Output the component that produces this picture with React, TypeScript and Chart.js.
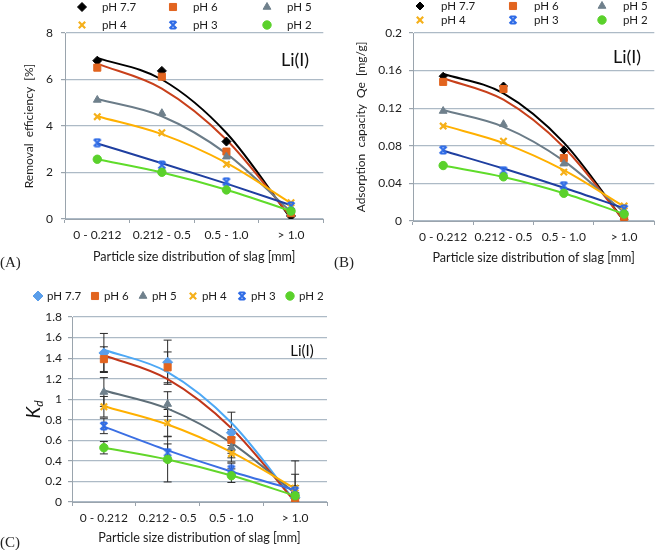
import React, { useEffect, useRef } from 'react';
import { Chart, registerables } from 'chart.js';
import { drawPoint } from 'chart.js/helpers';

Chart.register(...registerables);

// ---------------- data ----------------
const categories = ['0 - 0.212', '0.212 - 0.5', '0.5 - 1.0', '> 1.0'];
const phLabels = ['pH 7.7', 'pH 6', 'pH 5', 'pH 4', 'pH 3', 'pH 2'];
const panelTag = 'Li(I)';
const xTitle = 'Particle size distribution of slag [mm]';
const yTitleA = 'Removal  efficiency  [%]';
const yTitleB = 'Adsorption  capacity  Qe  [mg/g]';

// (A) removal efficiency [%]
const removalPH77 = [6.81, 6.37, 3.33, 0.13];
const removalPH6 = [6.51, 6.12, 2.9, 0.25];
const removalPH5 = [5.12, 4.55, 2.68, 0.35];
const removalPH4 = [4.4, 3.71, 2.35, 0.7];
const removalPH3 = [3.28, 2.32, 1.6, 0.56];
const removalPH2 = [2.57, 2.01, 1.25, 0.34];
const removalTrend77 = [6.93, 6.0, 3.7, 0.01];
const removalTrend6 = [6.68, 5.61, 3.41, 0.08];
const removalTrend5 = [5.16, 4.42, 2.81, 0.31];
const removalTrend4 = [4.42, 3.65, 2.41, 0.68];
const removalTrend3 = [3.25, 2.4, 1.52, 0.59];
const removalTrend2 = [2.57, 2.0, 1.26, 0.34];
const removalTicks = [0, 2, 4, 6, 8];

// (B) adsorption capacity Qe [mg/g]
const qePH77 = [0.154, 0.1436, 0.0755, 0.002];
const qePH6 = [0.148, 0.1404, 0.067, 0.004];
const qePH5 = [0.117, 0.103, 0.061, 0.01];
const qePH4 = [0.101, 0.085, 0.052, 0.016];
const qePH3 = [0.0755, 0.0535, 0.0376, 0.0128];
const qePH2 = [0.059, 0.047, 0.0295, 0.0074];
const qeTrend77 = [0.1566, 0.1358, 0.0834, 0.0];
const qeTrend6 = [0.1518, 0.129, 0.0784, 0.0002];
const qeTrend5 = [0.118, 0.1002, 0.0639, 0.0091];
const qeTrend4 = [0.1017, 0.0829, 0.0541, 0.0153];
const qeTrend3 = [0.0748, 0.0558, 0.0354, 0.0136];
const qeTrend2 = [0.059, 0.0469, 0.0296, 0.0074];
const qeTicks = [0, 0.04, 0.08, 0.12, 0.16, 0.2];

// (C) Kd
const kdPH77 = [1.45, 1.36, 0.674, 0.04];
const kdPH6 = [1.39, 1.31, 0.603, 0.036];
const kdPH5 = [1.07, 0.953, 0.53, 0.1];
const kdPH4 = [0.927, 0.77, 0.47, 0.135];
const kdPH3 = [0.74, 0.48, 0.318, 0.11];
const kdPH2 = [0.528, 0.415, 0.256, 0.061];
const kdErr77 = [0.19, 0.215, 0.2, 0.05];
const kdErr6 = [0.12, 0.15, 0.1, 0.03];
const kdErr5 = [0.14, 0.12, 0.1, 0.17];
const kdErr4 = [0.1, 0.13, 0.08, 0.265];
const kdErr3 = [0.075, 0.085, 0.06, 0.05];
const kdErr2 = [0.06, 0.22, 0.066, 0.03];
const kdTrend77 = [1.482, 1.263, 0.771, 0.008];
const kdTrend6 = [1.428, 1.195, 0.718, 0.0];
const kdTrend5 = [1.085, 0.908, 0.575, 0.085];
const kdTrend4 = [0.932, 0.754, 0.486, 0.13];
const kdTrend3 = [0.733, 0.502, 0.296, 0.117];
const kdTrend2 = [0.5285, 0.4135, 0.2575, 0.0605];
const kdTicks = [0, 0.2, 0.4, 0.6, 0.8, 1, 1.2, 1.4, 1.6, 1.8];

// ---------------- styles ----------------
const FONT = 'Lato, "Open Sans", sans-serif';
const TEXT = '#1c1c1c';
const GRID = '#adbac6';
const AXIS = '#9aa4ad';

const markerAB = ['#000000', '#e2641f', '#6f808c', '#f5b01a', '#2e6be6', '#5ad12b'];
const lineAB = ['#000000', '#c8401b', '#6b7c88', '#ffb000', '#1f3fa0', '#5fdc2a'];
const markerC = ['#5a9eea', '#e2641f', '#6f808c', '#f5b01a', '#2e6be6', '#5ad12b'];
const lineC = ['#4da8f5', '#c0361a', '#5e6e78', '#ffb000', '#3b6fe3', '#62d62a'];

function makeStar(color: string, size: number) {
  const c = document.createElement('canvas');
  c.width = size;
  c.height = size;
  const g = c.getContext('2d')!;
  g.strokeStyle = color;
  g.lineWidth = 2;
  const a = 1.5;
  const b = size - 1.5;
  g.beginPath();
  g.moveTo(a, a); g.lineTo(b, b);
  g.moveTo(b, a); g.lineTo(a, b);
  g.moveTo(a + 1, a); g.lineTo(b - 1, a);
  g.moveTo(a + 1, b); g.lineTo(b - 1, b);
  g.stroke();
  return c;
}

type Spec = {
  width: number;
  height: number;
  values: number[][];
  trends: number[][];
  errors?: number[][];
  ticks: number[];
  yTitle?: string;
  markerColors: string[];
  lineColors: string[];
  radii: number[];
  padTop: number;
  padRight: number;
  yWidth: number;
  xHeight: number;
  yTickPad: number;
  yTitlePad: number;
  xTickPad: number;
  xTitlePad: number;
  legendCols: number[];
  legendRows: number[];
  legendDx: number;
  tagX: number;
  tagY: number;
  tagSize: number;
  kd?: boolean;
};

function buildConfig(spec: Spec): any {
  const styles: any[] = ['rectRot', 'rect', 'triangle', 'crossRot', makeStar(spec.markerColors[4], 10), 'circle'];
  const pointSets = spec.values.map((vals, i) => ({
    label: phLabels[i],
    data: vals,
    showLine: false,
    pointStyle: styles[i],
    pointRadius: spec.radii[i],
    pointHoverRadius: spec.radii[i],
    pointBackgroundColor: spec.markerColors[i],
    pointBorderColor: spec.markerColors[i],
    pointBorderWidth: i === 3 ? 2.2 : 1,
    borderColor: spec.markerColors[i],
    backgroundColor: spec.markerColors[i],
    order: 10 - i,
  }));
  const trendSets = spec.trends.map((vals, i) => ({
    label: phLabels[i] + ' trend',
    data: vals,
    pointRadius: 0,
    pointHoverRadius: 0,
    borderColor: spec.lineColors[i],
    borderWidth: 2,
    cubicInterpolationMode: 'monotone',
    fill: false,
    order: 30 - i,
  }));

  const legendPlugin = {
    id: 'gridLegend',
    afterDraw(chart: any) {
      const ctx = chart.ctx;
      ctx.save();
      const nCols = spec.legendCols.length;
      for (let i = 0; i < pointSets.length; i++) {
        const ds = pointSets[i];
        const x = spec.legendCols[i % nCols];
        const y = spec.legendRows[Math.floor(i / nCols)];
        ctx.fillStyle = ds.pointBackgroundColor;
        ctx.strokeStyle = ds.pointBorderColor;
        ctx.lineWidth = ds.pointBorderWidth;
        drawPoint(ctx, { pointStyle: ds.pointStyle, radius: ds.pointRadius, borderWidth: ds.pointBorderWidth, rotation: 0 } as any, x, y);
        ctx.fillStyle = TEXT;
        ctx.font = `11.5px ${FONT}`;
        ctx.textBaseline = 'middle';
        ctx.textAlign = 'left';
        ctx.fillText(ds.label, x + spec.legendDx, y);
      }
      ctx.restore();
    },
  };

  const tagPlugin = {
    id: 'tagText',
    afterDraw(chart: any) {
      const ctx = chart.ctx;
      ctx.save();
      ctx.fillStyle = '#111';
      ctx.font = `${spec.tagSize}px ${FONT}`;
      ctx.textAlign = 'center';
      ctx.textBaseline = 'middle';
      ctx.fillText(panelTag, spec.tagX, spec.tagY);
      if (spec.kd) {
        const area = chart.chartArea;
        ctx.translate(34, (area.top + area.bottom) / 2);
        ctx.rotate(-Math.PI / 2);
        ctx.textAlign = 'left';
        ctx.textBaseline = 'alphabetic';
        ctx.font = `italic 19px ${FONT}`;
        const wK = ctx.measureText('K').width;
        ctx.font = `italic 12px ${FONT}`;
        const wd = ctx.measureText('d').width;
        const start = -(wK + wd) / 2;
        ctx.font = `italic 19px ${FONT}`;
        ctx.fillText('K', start, 6);
        ctx.font = `italic 12px ${FONT}`;
        ctx.fillText('d', start + wK, 9);
      }
      ctx.restore();
    },
  };

  const errPlugin = {
    id: 'errBars',
    beforeDatasetsDraw(chart: any) {
      if (!spec.errors) return;
      const { ctx, chartArea } = chart;
      const ys = chart.scales.y;
      ctx.save();
      ctx.beginPath();
      ctx.rect(chartArea.left, chartArea.top - 3, chartArea.right - chartArea.left, chartArea.bottom - chartArea.top + 3);
      ctx.clip();
      ctx.strokeStyle = '#2a2a2a';
      ctx.lineWidth = 1;
      spec.errors.forEach((errs, di) => {
        const meta = chart.getDatasetMeta(di);
        const vals = spec.values[di];
        meta.data.forEach((pt: any, j: number) => {
          const x = pt.x;
          const yt = ys.getPixelForValue(vals[j] + errs[j]);
          const yb = ys.getPixelForValue(vals[j] - errs[j]);
          ctx.beginPath();
          ctx.moveTo(x, yt); ctx.lineTo(x, yb);
          ctx.moveTo(x - 4, yt); ctx.lineTo(x + 4, yt);
          ctx.moveTo(x - 4, yb); ctx.lineTo(x + 4, yb);
          ctx.stroke();
        });
      });
      ctx.restore();
    },
  };

  const tickFont = { family: FONT, size: 12 };
  return {
    type: 'line',
    data: { labels: categories, datasets: [...pointSets, ...trendSets] },
    plugins: [legendPlugin, tagPlugin, errPlugin],
    options: {
      responsive: false,
      animation: false,
      events: [],
      layout: { padding: { top: spec.padTop, right: spec.padRight, left: 0, bottom: 0 } },
      plugins: { legend: { display: false }, tooltip: { enabled: false } },
      scales: {
        x: {
          type: 'category',
          offset: true,
          grid: { offset: true, drawOnChartArea: false, drawTicks: true, tickLength: 4, color: AXIS, tickColor: AXIS },
          border: { display: true, color: AXIS, width: 1 },
          ticks: { font: tickFont, color: TEXT, padding: spec.xTickPad, maxRotation: 0, autoSkip: false },
          title: { display: true, text: xTitle, font: { family: FONT, size: 12.6 }, color: TEXT, padding: { top: 0, bottom: spec.xTitlePad } },
          afterFit: (s: any) => { s.height = spec.xHeight; },
        },
        y: {
          min: spec.ticks[0],
          max: spec.ticks[spec.ticks.length - 1],
          afterBuildTicks: (s: any) => { s.ticks = spec.ticks.map((v) => ({ value: v })); },
          grid: { color: GRID, lineWidth: 1.2, drawTicks: true, tickLength: 4, tickColor: AXIS },
          border: { display: true, color: AXIS, width: 1 },
          ticks: { font: tickFont, color: TEXT, padding: spec.yTickPad, callback: (v: any) => String(v) },
          title: spec.yTitle
            ? { display: true, text: spec.yTitle, font: { family: FONT, size: 12 }, color: TEXT, padding: { top: spec.yTitlePad, bottom: 0 } }
            : { display: false },
          afterFit: (s: any) => { s.width = spec.yWidth; },
        },
      },
    },
  };
}

const specA: Spec = {
  width: 330, height: 275,
  values: [removalPH77, removalPH6, removalPH5, removalPH4, removalPH3, removalPH2],
  trends: [removalTrend77, removalTrend6, removalTrend5, removalTrend4, removalTrend3, removalTrend2],
  ticks: removalTicks,
  yTitle: yTitleA,
  markerColors: markerAB, lineColors: lineAB,
  radii: [4.5, 5, 4.5, 4.5, 5, 4.2],
  padTop: 33, padRight: 5, yWidth: 65, xHeight: 56,
  yTickPad: 8, yTitlePad: 22, xTickPad: 5, xTitlePad: 11,
  legendCols: [82, 173, 267], legendRows: [7, 25], legendDx: 20,
  tagX: 295, tagY: 60, tagSize: 18,
};

const specB: Spec = {
  width: 331, height: 275,
  values: [qePH77, qePH6, qePH5, qePH4, qePH3, qePH2],
  trends: [qeTrend77, qeTrend6, qeTrend5, qeTrend4, qeTrend3, qeTrend2],
  ticks: qeTicks,
  yTitle: yTitleB,
  markerColors: markerAB, lineColors: lineAB,
  radii: [4, 5, 4.5, 4.5, 5, 4.2],
  padTop: 33, padRight: 1, yWidth: 83, xHeight: 54,
  yTickPad: 7, yTitlePad: 24, xTickPad: 5, xTitlePad: 10,
  legendCols: [90, 183, 272], legendRows: [6, 20], legendDx: 21,
  tagX: 297, tagY: 57, tagSize: 18,
};

const specC: Spec = {
  width: 335, height: 270,
  values: [kdPH77, kdPH6, kdPH5, kdPH4, kdPH3, kdPH2],
  trends: [kdTrend77, kdTrend6, kdTrend5, kdTrend4, kdTrend3, kdTrend2],
  errors: [kdErr77, kdErr6, kdErr5, kdErr4, kdErr3, kdErr2],
  ticks: kdTicks,
  markerColors: markerC, lineColors: lineC,
  radii: [5, 5, 4.5, 4.5, 5, 4.2],
  padTop: 37, padRight: 8, yWidth: 72, xHeight: 48,
  yTickPad: 6, yTitlePad: 0, xTickPad: 5, xTitlePad: 5,
  legendCols: [38, 95, 143, 193, 242, 290], legendRows: [16], legendDx: 9,
  tagX: 302, tagY: 71, tagSize: 15,
  kd: true,
};

function Panel({ spec, left, top }: { spec: Spec; left: number; top: number }) {
  const ref = useRef<HTMLCanvasElement>(null);
  useEffect(() => {
    const chart = new Chart(ref.current!, buildConfig(spec));
    return () => chart.destroy();
  }, [spec]);
  return (
    <canvas
      ref={ref}
      width={spec.width}
      height={spec.height}
      style={{ position: 'absolute', left, top, width: spec.width, height: spec.height }}
    />
  );
}

const tagStyle: React.CSSProperties = {
  position: 'absolute',
  fontFamily: '"Liberation Serif", "DejaVu Serif", serif',
  fontSize: 15,
  lineHeight: '18px',
  color: '#222',
};

export default function App() {
  return (
    <div style={{ position: 'fixed', left: 0, top: 0, width: 661, height: 550, background: '#fff', overflow: 'hidden' }}>
      <Panel spec={specA} left={0} top={0} />
      <Panel spec={specB} left={330} top={0} />
      <Panel spec={specC} left={0} top={280} />
      <span style={{ ...tagStyle, left: 0, top: 253 }}>(A)</span>
      <span style={{ ...tagStyle, left: 334, top: 253 }}>(B)</span>
      <span style={{ ...tagStyle, left: 0, top: 533 }}>(C)</span>
    </div>
  );
}
